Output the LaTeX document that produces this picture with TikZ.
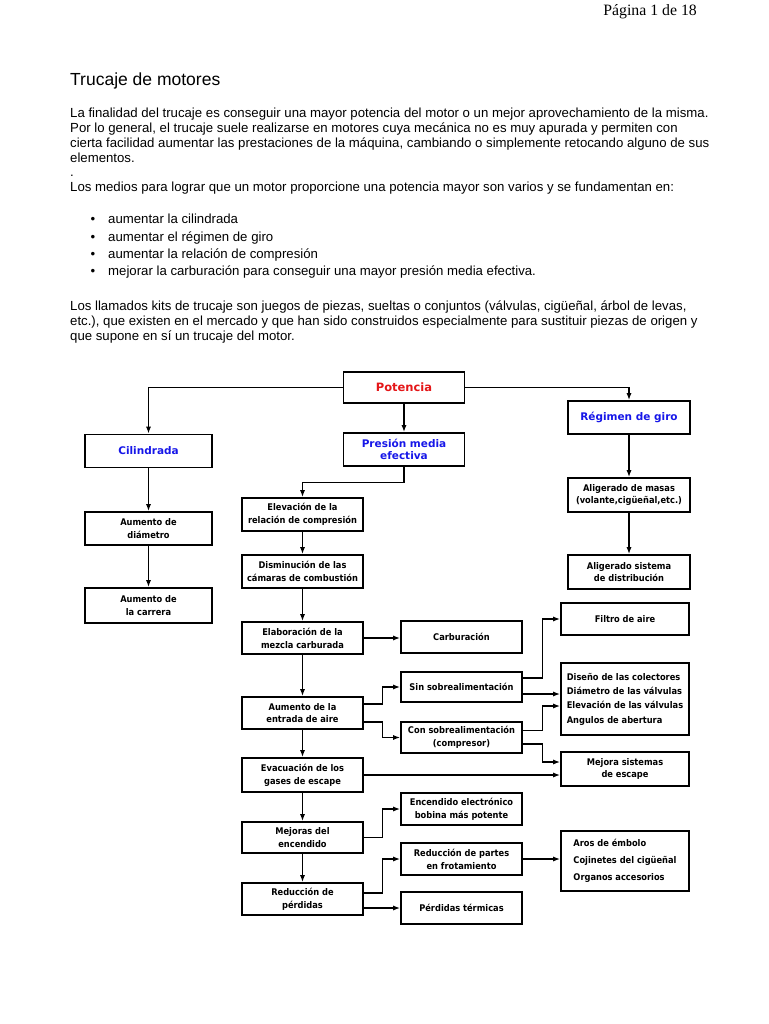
\documentclass[tikz,border=0pt]{standalone}
\usepackage{fontspec}
\setmainfont{Liberation Sans}
\newfontfamily\paginafont{Liberation Serif}
\newfontfamily\cajafont{DejaVu Sans Condensed}
\newfontfamily\titfont{DejaVu Sans}
\usetikzlibrary{arrows.meta}

\definecolor{rojotit}{RGB}{228,22,24}
\definecolor{azultit}{RGB}{22,22,232}

\newcommand\letrero{\cajafont\bfseries\fontsize{9.2}{12.8}\selectfont}
\newcommand\cuerpo{\fontsize{13.2}{14.7}\selectfont}

\tikzset{
  caja/.style={draw, line width=1.6pt, minimum width=121pt, minimum height=32pt,
    inner sep=2pt, align=center, font=\letrero},
  titulo/.style={caja, font=\titfont\bfseries\fontsize{10.5}{11}\selectfont},
  flecha/.style={-{Latex[length=7pt,width=5pt]}, line width=1.3pt},
}

\begin{document}
\begin{tikzpicture}[x=1pt,y=-1pt]
  \useasboundingbox (0,0) rectangle (768,1024);

  % texto de la pagina
  \node[anchor=base east, inner sep=0, font=\paginafont\fontsize{15.8}{18}\selectfont] (pagina) at (697,16) {Página 1 de 18};
  \node[anchor=base west, inner sep=0, font=\fontsize{17.5}{20}\selectfont] (titulo) at (70,86) {Trucaje de motores};

  \node[anchor=base west, inner sep=0, align=left, font=\cuerpo] (parr1) at (70,191.5)
    {La finalidad del trucaje es conseguir una mayor potencia del motor o un mejor aprovechamiento de la misma.\\
     Por lo general, el trucaje suele realizarse en motores cuya mecánica no es muy apurada y permiten con\\
     cierta facilidad aumentar las prestaciones de la máquina, cambiando o simplemente retocando alguno de sus\\
     elementos.\\
     .\\
     Los medios para lograr que un motor proporcione una potencia mayor son varios y se fundamentan en:};

  \foreach \texto [count=\i] in {aumentar la cilindrada, aumentar el régimen de giro,
      aumentar la relación de compresión,
      mejorar la carburación para conseguir una mayor presión media efectiva.}
  {
    \node[anchor=base, inner sep=0, font=\cuerpo] (bala\i) at (93,224+17.3*\i-17.3) {\textbullet};
    \node[anchor=base west, inner sep=0, font=\cuerpo] (punto\i) at (108,224+17.3*\i-17.3) {\texto};
  }

  \node[anchor=base west, inner sep=0, align=left, font=\cuerpo] (parr3) at (70,340)
    {Los llamados kits de trucaje son juegos de piezas, sueltas o conjuntos (válvulas, cigüeñal, árbol de levas,\\
     etc.), que existen en el mercado y que han sido construidos especialmente para sustituir piezas de origen y\\
     que supone en sí un trucaje del motor.};

  % cajas principales
  \node[titulo, minimum height=31pt, text=rojotit, font=\titfont\bfseries\fontsize{11.5}{12}\selectfont] (pot) at (404,387.5) {Potencia};
  \node[titulo, minimum width=127pt, minimum height=33pt, text=azultit] (cil) at (148.5,451) {Cilindrada};
  \node[titulo, minimum height=33pt, text=azultit, font=\titfont\bfseries\fontsize{10.5}{12.5}\selectfont] (pme) at (404,449.5) {Presión media\\efectiva};
  \node[titulo, minimum width=122pt, minimum height=33pt, text=azultit] (reg) at (629,417.5) {Régimen de giro};

  % columna izquierda
  \node[caja, minimum width=127pt, minimum height=33pt] (diam) at (148.5,528.5) {Aumento de\\diámetro};
  \node[caja, minimum width=127pt, minimum height=35pt] (carrera) at (148.5,605.5) {Aumento de\\la carrera};

  % columna derecha
  \node[caja, minimum width=122pt, minimum height=34pt] (masas) at (629,495) {Aligerado de masas\\(volante,cigüeñal,etc.)};
  \node[caja, minimum width=122pt, minimum height=34pt] (distrib) at (629,572) {Aligerado sistema\\de distribución};

  % columna central
  \node[caja, minimum height=33pt] (elev) at (302.5,514.5) {Elevación de la\\relación de compresión};
  \node[caja, minimum height=33pt] (dism) at (302.5,571.5) {Disminución de las\\cámaras de combustión};
  \node[caja] (elab) at (302.5,638) {Elaboración de la\\mezcla carburada};
  \node[caja] (aire) at (302.5,713) {Aumento de la\\entrada de aire};
  \node[caja, minimum height=34pt] (evac) at (302.5,775) {Evacuación de los\\gases de escape};
  \node[caja, minimum height=31pt] (encen) at (302.5,837.5) {Mejoras del\\encendido};
  \node[caja] (perd) at (302.5,899) {Reducción de\\pérdidas};

  % segunda columna
  \node[caja] (carb) at (461.5,637) {Carburación};
  \node[caja, minimum height=30pt] (sin) at (461.5,687) {Sin sobrealimentación};
  \node[caja, minimum height=31pt] (con) at (461.5,737.5) {Con sobrealimentación\\(compresor)};
  \node[caja] (elec) at (461.5,809) {Encendido electrónico\\bobina más potente};
  \node[caja] (frot) at (461.5,859) {Reducción de partes\\en frotamiento};
  \node[caja] (term) at (461.5,908) {Pérdidas térmicas};

  % tercera columna
  \node[caja, minimum width=128pt] (filtro) at (625,619) {Filtro de aire};
  \node[caja, minimum width=128pt, minimum height=72pt, align=left] (diseno) at (625,699)
    {Diseño de las colectores\\[1.5pt]Diámetro de las válvulas\\[1.5pt]Elevación de las válvulas\\[1.5pt]Angulos de abertura};
  \node[caja, minimum width=128pt, minimum height=34pt] (escape) at (625,769) {Mejora sistemas\\de escape};
  \node[caja, minimum width=128pt, minimum height=60pt, align=left] (aros) at (625,861)
    {Aros de émbolo\\[4pt]Cojinetes del cigüeñal\\[4pt]Organos accesorios};

  % conexiones
  \draw[flecha] (pot.west) -| (cil.north);
  \draw[flecha] (pot.east) -| (reg.north);
  \draw[flecha] (pot) -- (pme);
  \draw[flecha] (pme.south) -- ++(0,16) -| (elev.north);

  \draw[flecha] (cil) -- (diam);
  \draw[flecha] (diam) -- (carrera);
  \draw[flecha] (reg) -- (masas);
  \draw[flecha] (masas) -- (distrib);

  \draw[flecha] (elev) -- (dism);
  \draw[flecha] (dism) -- (elab);
  \draw[flecha] (elab) -- (aire);
  \draw[flecha] (aire) -- (evac);
  \draw[flecha] (evac) -- (encen);
  \draw[flecha] (encen) -- (perd);

  \draw[flecha] (elab.east) -- (elab.east -| carb.west);
  \draw[flecha] ([yshift=9pt]aire.east) -- ++(19,0) |- (sin.west);
  \draw[flecha] ([yshift=-9pt]aire.east) -- ++(19,0) |- (con.west);
  \draw[flecha] ([yshift=9pt]sin.east) -- ++(20,0) |- (filtro.west);
  \draw[flecha] ([yshift=-7pt]sin.east) coordinate (s2) -- (s2 -| diseno.west);
  \draw[flecha] ([yshift=7pt]con.east) -- ++(20,0) |- ([yshift=-7pt]diseno.west);
  \draw[flecha] ([yshift=-6.5pt]con.east) -- ++(20,0) |- ([yshift=7pt]escape.west);
  \draw[flecha] (evac.east) -- (evac.east -| escape.west);

  \draw[flecha] (encen.east) -- ++(19,0) |- (elec.west);
  \draw[flecha] ([yshift=6pt]perd.east) -- ++(19,0) |- (frot.west);
  \draw[flecha] (term.west -| perd.east) -- (term.west);
  \draw[flecha] (frot.east) -- (frot.east -| aros.west);
\end{tikzpicture}
\end{document}
